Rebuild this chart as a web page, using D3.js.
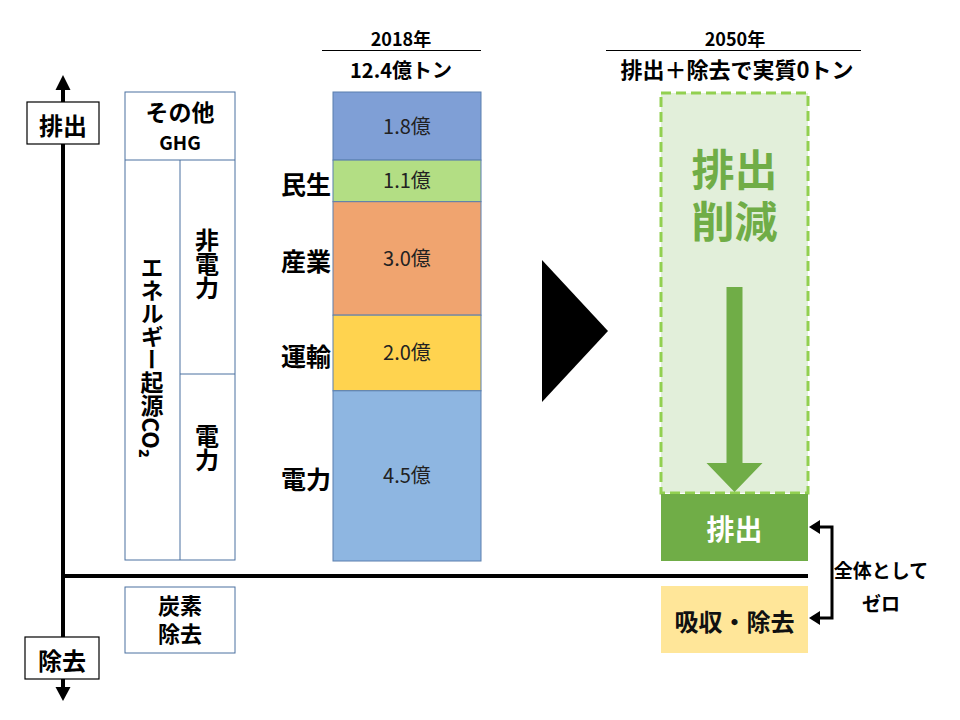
<!DOCTYPE html>
<html>
<head>
<meta charset="utf-8">
<script src="https://cdn.jsdelivr.net/npm/d3@7"></script>
<style>
  html, body { margin: 0; padding: 0; background: #fff; }
  svg text { font-family: "Noto Sans CJK JP", "Noto Sans", sans-serif; }
</style>
</head>
<body>
<div id="chart"></div>
<script>
  'use strict';

  // 2018 emissions breakdown (億トン)
  var categories = ['その他GHG', '民生', '産業', '運輸', '電力'];
  var values2018 = [1.8, 1.1, 3.0, 2.0, 4.5];
  var sectorLabels = ['', '民生', '産業', '運輸', '電力'];
  var segColors = ['#7f9fd6', '#b3de84', '#f0a46f', '#ffd34f', '#8eb6e1'];
  var total2018 = 12.4;

  var W = 960, H = 720;
  var svg = d3.select('#chart').append('svg')
    .attr('width', W).attr('height', H);

  var y = d3.scaleLinear().domain([0, total2018]).range([561, 92]);

  // stacked values, top segment first
  var stack = [];
  var acc = total2018;
  values2018.forEach(function(v, i) {
    stack.push({ name: categories[i], label: sectorLabels[i], v: v, top: acc, bot: acc - v, color: segColors[i] });
    acc -= v;
  });

  var barX = 333, barW = 148;

  // ---- vertical axis with arrows
  var ax = 63;
  svg.append('line').attr('x1', ax).attr('x2', ax).attr('y1', 88).attr('y2', 690)
    .attr('stroke', '#000').attr('stroke-width', 4);
  svg.append('path').attr('d', 'M' + ax + ',75 L' + (ax - 7.5) + ',90 L' + (ax + 7.5) + ',90 Z').attr('fill', '#000');
  svg.append('path').attr('d', 'M' + ax + ',701 L' + (ax - 7.5) + ',687 L' + (ax + 7.5) + ',687 Z').attr('fill', '#000');

  // baseline (zero)
  svg.append('line').attr('x1', ax).attr('x2', 808).attr('y1', 576).attr('y2', 576)
    .attr('stroke', '#000').attr('stroke-width', 4);

  function labelBox(x0, y0, w, h, txt) {
    svg.append('rect').attr('x', x0).attr('y', y0).attr('width', w).attr('height', h)
      .attr('fill', '#fff').attr('stroke', '#000').attr('stroke-width', 1.2);
    svg.append('text').attr('x', x0 + w / 2).attr('y', y0 + h / 2 + 1)
      .attr('text-anchor', 'middle').attr('dominant-baseline', 'central')
      .attr('font-size', 24).attr('font-weight', 'bold').text(txt);
  }
  labelBox(27, 102, 72, 42, '排出');
  labelBox(25, 637, 74, 42, '除去');

  // two-line text as one element
  function twoLine(cx, y1, dy, lines, size, fill, size2) {
    var t = svg.append('text').attr('text-anchor', 'middle')
      .attr('font-weight', 'bold').attr('fill', fill || '#000');
    t.append('tspan').attr('x', cx).attr('y', y1).attr('font-size', size).text(lines[0]);
    t.append('tspan').attr('x', cx).attr('y', y1 + dy).attr('font-size', size2 || size).text(lines[1]);
    return t;
  }

  // ---- left category table
  var tb = svg.append('g').attr('fill', 'none').attr('stroke', '#4a70a0').attr('stroke-width', 1);
  tb.append('rect').attr('x', 125).attr('y', 92).attr('width', 110).attr('height', 468);
  tb.append('line').attr('x1', 125).attr('x2', 235).attr('y1', 160).attr('y2', 160);
  tb.append('line').attr('x1', 180).attr('x2', 180).attr('y1', 160).attr('y2', 560);
  tb.append('line').attr('x1', 180).attr('x2', 235).attr('y1', 374).attr('y2', 374);
  tb.append('rect').attr('x', 125).attr('y', 587).attr('width', 110).attr('height', 66);

  twoLine(180, 121, 29, ['その他', 'GHG'], 23, '#000', 19);

  function vtext(cx, cy, txt, size) {
    svg.append('text').attr('x', cx).attr('y', cy)
      .attr('text-anchor', 'middle')
      .style('writing-mode', 'vertical-rl')
      .attr('font-size', size).attr('font-weight', 'bold').text(txt);
  }
  vtext(152, 357, 'エネルギー起源CO₂', 23);
  vtext(207, 264, '非電力', 24);
  vtext(207, 448, '電力', 24);

  twoLine(180, 614, 28, ['炭素', '除去'], 22);

  // ---- 2018 stacked bar
  var seg = svg.append('g').selectAll('g').data(stack).join('g');
  seg.append('rect')
    .attr('x', barX).attr('width', barW)
    .attr('y', function(d) { return y(d.top); })
    .attr('height', function(d) { return y(d.bot) - y(d.top); })
    .attr('fill', function(d) { return d.color; })
    .attr('stroke', '#5a7fae').attr('stroke-width', 1);
  seg.append('text')
    .attr('x', barX + barW / 2)
    .attr('y', function(d) { return (y(d.top) + y(d.bot)) / 2 - 1; })
    .attr('text-anchor', 'middle').attr('dominant-baseline', 'central')
    .attr('font-size', 20).attr('fill', '#222')
    .text(function(d) { return d3.format('.1f')(d.v) + '億'; });
  seg.filter(function(d) { return d.label; }).append('text')
    .attr('x', 331)
    .attr('y', function(d) { return (y(d.top) + y(d.bot)) / 2 + 2; })
    .attr('text-anchor', 'end').attr('dominant-baseline', 'central')
    .attr('font-size', 25).attr('font-weight', 'bold')
    .text(function(d) { return d.label; });

  // headers
  svg.append('text').attr('x', 401).attr('y', 46).attr('text-anchor', 'middle')
    .attr('font-size', 18).attr('font-weight', 'bold').text('2018年');
  svg.append('line').attr('x1', 322).attr('x2', 481).attr('y1', 50.5).attr('y2', 50.5)
    .attr('stroke', '#000').attr('stroke-width', 1);
  svg.append('text').attr('x', 401).attr('y', 78).attr('text-anchor', 'middle')
    .attr('font-size', 20).attr('font-weight', 'bold').text('12.4億トン');

  svg.append('text').attr('x', 735).attr('y', 46).attr('text-anchor', 'middle')
    .attr('font-size', 18).attr('font-weight', 'bold').text('2050年');
  svg.append('line').attr('x1', 606).attr('x2', 861).attr('y1', 50.5).attr('y2', 50.5)
    .attr('stroke', '#000').attr('stroke-width', 1);
  svg.append('text').attr('x', 737).attr('y', 78).attr('text-anchor', 'middle')
    .attr('font-size', 22).attr('font-weight', 'bold').text('排出＋除去で実質0トン');

  // big transition triangle
  svg.append('path').attr('d', 'M542,260 L608,331 L542,402 Z').attr('fill', '#000');

  // ---- 2050 column
  var bx = 661, bw = 147;
  var acx = bx + bw / 2;
  svg.append('rect').attr('x', bx).attr('y', 93).attr('width', bw).attr('height', 400)
    .attr('fill', '#e2efda').attr('stroke', '#92d050').attr('stroke-width', 3)
    .attr('stroke-dasharray', '10,5');
  twoLine(acx, 186, 52, ['排出', '削減'], 43, '#70ad47');

  svg.append('path')
    .attr('d', 'M' + (acx - 8) + ',287 L' + (acx + 8) + ',287 L' + (acx + 8) + ',463 L' + (acx + 28) + ',463 L' + acx + ',492 L' + (acx - 28) + ',463 L' + (acx - 8) + ',463 Z')
    .attr('fill', '#70ad47');

  svg.append('rect').attr('x', bx).attr('y', 494).attr('width', bw).attr('height', 67)
    .attr('fill', '#70ad47');
  svg.append('text').attr('x', acx).attr('y', 528).attr('text-anchor', 'middle')
    .attr('dominant-baseline', 'central').attr('font-size', 28).attr('font-weight', 'bold')
    .attr('fill', '#fff').text('排出');

  svg.append('rect').attr('x', bx).attr('y', 586).attr('width', bw).attr('height', 67)
    .attr('fill', '#ffe699');
  svg.append('text').attr('x', acx).attr('y', 620).attr('text-anchor', 'middle')
    .attr('dominant-baseline', 'central').attr('font-size', 24).attr('font-weight', 'bold')
    .attr('fill', '#111').text('吸収・除去');

  // bracket
  svg.append('path').attr('d', 'M818,527 L832,527 L832,618 L818,618')
    .attr('fill', 'none').attr('stroke', '#000').attr('stroke-width', 3);
  svg.append('path').attr('d', 'M809,527 L820,520 L820,534 Z').attr('fill', '#000');
  svg.append('path').attr('d', 'M809,618 L820,611 L820,625 Z').attr('fill', '#000');

  twoLine(881, 578, 33, ['全体として', 'ゼロ'], 19);
</script>
</body>
</html>
